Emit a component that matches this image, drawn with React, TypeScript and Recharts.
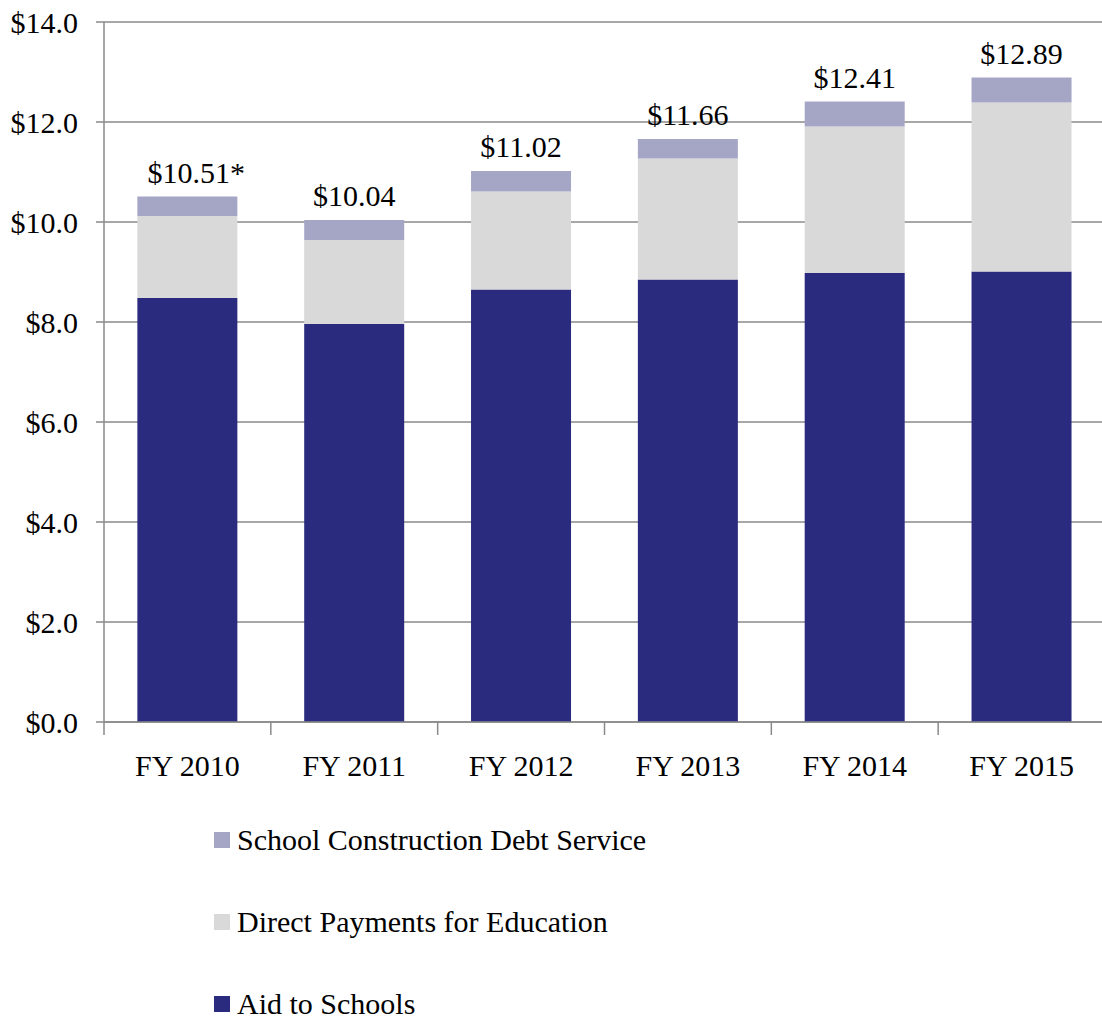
import { Bar, BarChart, CartesianGrid, LabelList, Legend, XAxis, YAxis } from 'recharts'

const categories = ['FY 2010', 'FY 2011', 'FY 2012', 'FY 2013', 'FY 2014', 'FY 2015']
const aidToSchools = [8.48, 7.96, 8.65, 8.85, 8.98, 9.01]
const directPayments = [1.64, 1.68, 1.96, 2.42, 2.93, 3.38]
const debtService = [0.39, 0.4, 0.41, 0.39, 0.5, 0.5]
const totalLabels = ['$10.51*', '$10.04', '$11.02', '$11.66', '$12.41', '$12.89']
const yTicks = [0, 2, 4, 6, 8, 10, 12, 14]

const data = categories.map((name, i) => ({
  name,
  aid: aidToSchools[i],
  direct: directPayments[i],
  debt: debtService[i],
}))

const FONT = "'Liberation Serif', 'Times New Roman', serif"
const AXIS = '#8a8a8a'
const CHART_W = 1106
const Y_AXIS_W = 104
const RIGHT = 1
const BAND = (CHART_W - Y_AXIS_W - RIGHT) / categories.length

const XTick = (props: any) => {
  const { x, y, payload, index } = props
  const left = x - BAND / 2
  return (
    <g>
      <line x1={left} x2={left} y1={y} y2={y + 13} stroke={AXIS} strokeWidth={1.5} />
      {index === categories.length - 1 && (
        <line x1={x + BAND / 2} x2={x + BAND / 2} y1={y} y2={y + 13} stroke={AXIS} strokeWidth={1.5} />
      )}
      <text x={x} y={y + 54} textAnchor='middle' fontFamily={FONT} fontSize={30} fill='#000'>
        {payload.value}
      </text>
    </g>
  )
}

const TotalLabel = (props: any) => {
  const { x, y, width, index } = props
  const label = totalLabels[index]
  return (
    <text
      x={x + width / 2}
      y={y - 14}
      dx={label.endsWith('*') ? 9 : 0}
      textAnchor='middle'
      fontFamily={FONT}
      fontSize={30}
      fill='#000'
    >
      {label}
    </text>
  )
}

const renderLegend = (props: any) => {
  const items = [...(props.payload || [])].reverse()
  return (
    <div>
      {items.map((item: any, i: number) => (
        <div key={item.value} style={{ height: i === items.length - 1 ? 52 : 82, display: 'flex', alignItems: i === items.length - 1 ? 'flex-start' : 'center' }}>
          <span
            style={{
              width: 16,
              height: 16,
              background: item.color,
              display: 'inline-block',
              marginRight: 7,
              marginTop: i === items.length - 1 ? 33 : 0,
            }}
          />
          <span
            style={{
              fontFamily: FONT,
              fontSize: 30,
              lineHeight: '30px',
              color: '#000',
              whiteSpace: 'nowrap',
              marginTop: i === items.length - 1 ? 26 : 0,
            }}
          >
            {item.value}
          </span>
        </div>
      ))}
    </div>
  )
}

const App = () => {
  return (
    <div style={{ width: 1102, height: 1017, overflow: 'hidden', position: 'relative' }}>
      <style>{'body{margin:0}'}</style>
      <BarChart
        width={CHART_W}
        height={1017}
        data={data}
        margin={{ top: 22, right: RIGHT, bottom: 255, left: 0 }}
        barCategoryGap='20%'
      >
        <CartesianGrid vertical={false} stroke={AXIS} strokeWidth={1.5} />
        <XAxis
          dataKey='name'
          height={40}
          axisLine={{ stroke: AXIS, strokeWidth: 1.5 }}
          tickLine={false}
          tickSize={0}
          tickMargin={0}
          interval={0}
          tick={<XTick />}
        />
        <YAxis
          width={Y_AXIS_W}
          domain={[0, 14]}
          ticks={yTicks}
          interval={0}
          tickFormatter={(v: number) => `$${v.toFixed(1)}`}
          axisLine={{ stroke: AXIS, strokeWidth: 1.5 }}
          tickLine={{ stroke: AXIS, strokeWidth: 1.5 }}
          tickSize={8}
          tickMargin={18}
          tick={{ fontFamily: FONT, fontSize: 30, fill: '#000' }}
        />
        <Bar dataKey='aid' name='Aid to Schools' stackId='a' fill='#2a2a7e' isAnimationActive={false} />
        <Bar dataKey='direct' name='Direct Payments for Education' stackId='a' fill='#d9d9d9' isAnimationActive={false} />
        <Bar dataKey='debt' name='School Construction Debt Service' stackId='a' fill='#a5a5c6' isAnimationActive={false}>
          <LabelList dataKey='debt' content={<TotalLabel />} />
        </Bar>
        <Legend
          layout='vertical'
          align='center'
          verticalAlign='middle'
          content={renderLegend}
          wrapperStyle={{ top: 799, left: 214, width: 700, height: 216 }}
        />
      </BarChart>
    </div>
  )
}

export default App
